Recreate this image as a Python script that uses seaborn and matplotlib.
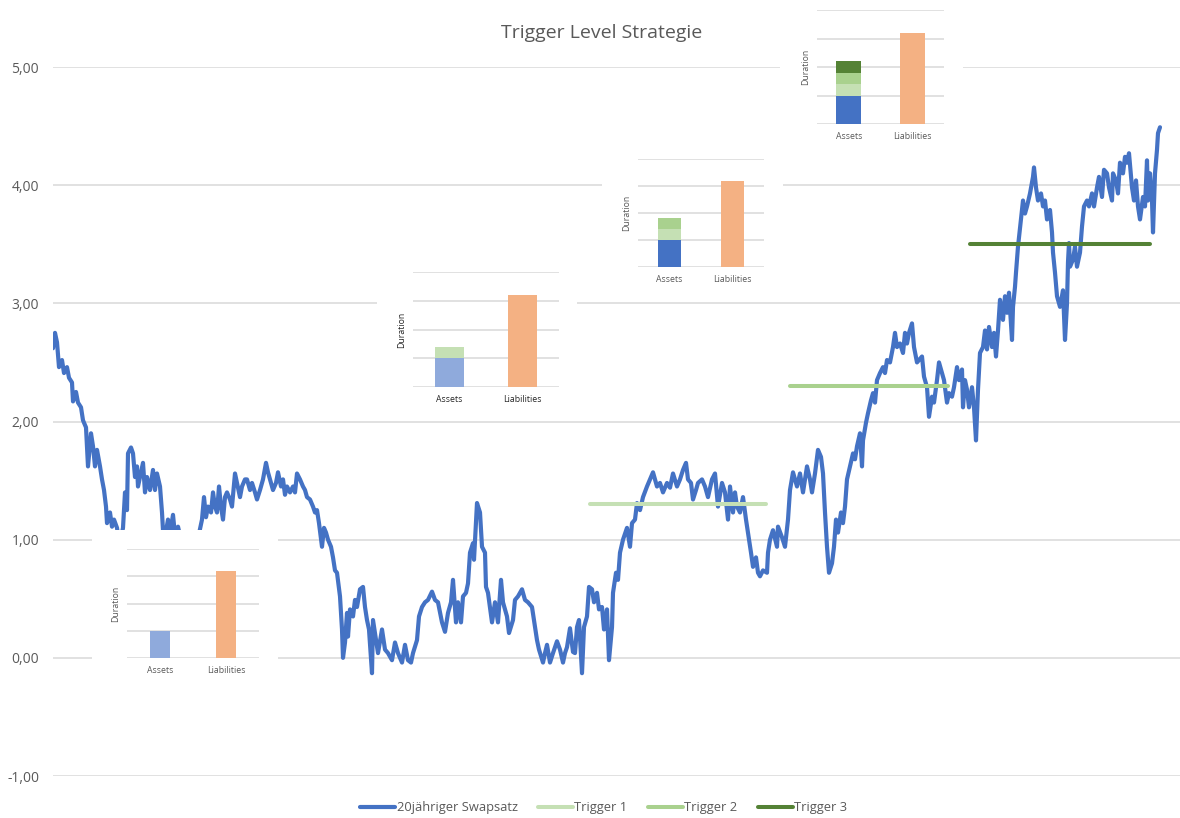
import numpy as np
import pandas as pd
import matplotlib
matplotlib.use("Agg")
import matplotlib.pyplot as plt
from matplotlib.ticker import FuncFormatter
import seaborn as sns

# ---------------- data ----------------
tage = [
    0, 2, 4, 6, 9, 11, 14, 16, 19, 20,
    23, 25, 28, 30, 33, 35, 38, 40, 42, 44,
    47, 49, 51, 53, 54, 57, 59, 61, 64, 66,
    68, 70, 72, 74, 75, 78, 80, 82, 84, 85,
    87, 90, 92, 94, 97, 100, 102, 104, 107, 109,
    110, 112, 115, 117, 120, 122, 125, 128, 133, 138,
    143, 146, 149, 151, 153, 155, 158, 160, 162, 164,
    166, 168, 170, 172, 174, 177, 179, 182, 184, 187,
    189, 192, 194, 197, 199, 202, 204, 207, 210, 213,
    215, 218, 220, 223, 225, 228, 230, 232, 234, 237,
    240, 242, 244, 247, 250, 252, 254, 257, 260, 262,
    264, 266, 269, 271, 273, 275, 278, 280, 282, 284,
    287, 289, 290, 292, 294, 295, 297, 300, 302, 304,
    307, 310, 312, 314, 316, 319, 320, 323, 325, 329,
    332, 335, 339, 342, 345, 349, 352, 355, 358, 360,
    364, 366, 369, 372, 375, 379, 382, 385, 389, 392,
    395, 398, 400, 403, 405, 408, 410, 413, 415, 417,
    420, 421, 424, 427, 429, 432, 433, 435, 439, 442,
    445, 448, 450, 454, 456, 460, 462, 465, 469, 472,
    475, 479, 481, 484, 486, 490, 492, 494, 497, 500,
    502, 504, 507, 510, 512, 514, 517, 520, 522, 524,
    526, 529, 531, 534, 536, 539, 541, 544, 546, 549,
    551, 554, 556, 559, 560, 563, 565, 567, 570, 574,
    577, 579, 582, 584, 587, 590, 594, 597, 600, 604,
    607, 610, 614, 617, 620, 624, 627, 630, 633, 635,
    638, 640, 643, 645, 649, 652, 655, 659, 662, 665,
    669, 672, 675, 677, 680, 682, 684, 687, 690, 693,
    695, 698, 700, 703, 705, 707, 710, 714, 715, 717,
    720, 724, 725, 729, 732, 735, 737, 740, 744, 747,
    750, 754, 757, 759, 762, 765, 768, 770, 771, 772,
    774, 776, 779, 781, 783, 785, 788, 790, 792, 794,
    797, 800, 802, 804, 807, 809, 810, 813, 815, 818,
    820, 822, 824, 827, 830, 832, 834, 837, 840, 842,
    844, 847, 850, 852, 854, 856, 859, 861, 864, 866,
    869, 871, 874, 876, 879, 881, 884, 886, 889, 891,
    894, 896, 899, 901, 904, 906, 909, 910, 912, 914,
    916, 919, 921, 923, 925, 927, 930, 932, 934, 936,
    939, 941, 943, 945, 947, 950, 952, 954, 956, 959,
    960, 962, 963, 965, 968, 970, 972, 974, 977, 980,
    981, 983, 985, 988, 990, 992, 994, 997, 999, 1000,
    1002, 1004, 1007, 1010, 1012, 1014, 1015, 1016, 1017, 1020,
    1022, 1024, 1027, 1029, 1031, 1034, 1036, 1039, 1041, 1044,
    1046, 1049, 1051, 1054, 1056, 1059, 1060, 1063, 1065, 1067,
    1070, 1072, 1074, 1076, 1079, 1081, 1083, 1085, 1087, 1090,
    1092, 1094, 1095, 1097, 1099, 1100, 1102, 1104, 1105, 1107,
]

swapsatz = [
    2.62, 2.75, 2.67, 2.46, 2.52, 2.41, 2.46, 2.37, 2.33, 2.17,
    2.25, 2.16, 2.12, 2.01, 1.95, 1.62, 1.90, 1.79, 1.62, 1.76,
    1.62, 1.51, 1.42, 1.28, 1.14, 1.23, 1.11, 1.17, 1.10, 0.98,
    1.02, 1.10, 1.40, 1.25, 1.73, 1.78, 1.73, 1.53, 1.62, 1.45,
    1.53, 1.65, 1.40, 1.53, 1.42, 1.59, 1.42, 1.56, 1.45, 1.23,
    1.08, 1.02, 1.17, 1.05, 1.21, 1.04, 1.11, 1.00, 0.95, 0.98,
    1.00, 1.05, 1.17, 1.36, 1.19, 1.28, 1.23, 1.40, 1.28, 1.23,
    1.45, 1.28, 1.17, 1.36, 1.40, 1.34, 1.28, 1.56, 1.48, 1.36,
    1.45, 1.51, 1.51, 1.42, 1.48, 1.40, 1.34, 1.42, 1.51, 1.65,
    1.57, 1.48, 1.42, 1.48, 1.57, 1.45, 1.51, 1.38, 1.45, 1.40,
    1.45, 1.40, 1.56, 1.51, 1.45, 1.42, 1.36, 1.34, 1.28, 1.23,
    1.25, 1.14, 0.94, 1.10, 1.06, 1.00, 0.94, 0.85, 0.74, 0.72,
    0.52, 0.24, 0.00, 0.13, 0.38, 0.18, 0.41, 0.35, 0.49, 0.43,
    0.58, 0.60, 0.43, 0.32, 0.24, -0.13, 0.32, 0.15, 0.04, 0.24,
    0.07, 0.04, -0.02, 0.13, 0.04, -0.04, 0.11, -0.02, -0.04, 0.04,
    0.15, 0.35, 0.43, 0.47, 0.49, 0.56, 0.49, 0.47, 0.30, 0.22,
    0.38, 0.47, 0.66, 0.30, 0.47, 0.30, 0.52, 0.55, 0.63, 0.89,
    0.97, 0.83, 1.31, 1.23, 0.94, 0.89, 0.60, 0.55, 0.30, 0.47,
    0.30, 0.66, 0.47, 0.35, 0.21, 0.32, 0.49, 0.52, 0.58, 0.49,
    0.47, 0.43, 0.32, 0.15, 0.07, -0.04, 0.04, 0.11, -0.04, 0.04,
    0.09, 0.14, 0.07, -0.04, 0.04, 0.09, 0.25, 0.05, 0.04, 0.26,
    0.32, -0.13, 0.26, 0.35, 0.60, 0.58, 0.47, 0.55, 0.41, 0.43,
    0.24, 0.41, -0.02, 0.26, 0.55, 0.72, 0.66, 0.89, 1.00, 1.10,
    0.94, 1.14, 1.17, 1.31, 1.25, 1.36, 1.45, 1.51, 1.57, 1.45,
    1.48, 1.40, 1.48, 1.44, 1.56, 1.45, 1.51, 1.59, 1.65, 1.51,
    1.48, 1.34, 1.42, 1.48, 1.51, 1.45, 1.36, 1.51, 1.56, 1.28,
    1.48, 1.40, 1.17, 1.45, 1.23, 1.40, 1.28, 1.23, 1.36, 1.17,
    1.06, 0.89, 0.77, 0.85, 0.72, 0.69, 0.74, 0.72, 0.89, 1.00,
    1.08, 0.94, 1.11, 1.02, 0.94, 1.17, 1.42, 1.57, 1.45, 1.56,
    1.40, 1.62, 1.51, 1.40, 1.56, 1.76, 1.70, 1.56, 1.40, 1.23,
    0.94, 0.72, 0.80, 0.94, 1.17, 1.06, 1.23, 1.14, 1.28, 1.51,
    1.62, 1.73, 1.68, 1.79, 1.90, 1.62, 1.84, 1.99, 2.07, 2.18,
    2.24, 2.16, 2.35, 2.41, 2.46, 2.41, 2.52, 2.50, 2.63, 2.75,
    2.63, 2.66, 2.58, 2.75, 2.66, 2.75, 2.83, 2.63, 2.50, 2.52,
    2.55, 2.38, 2.29, 2.04, 2.21, 2.16, 2.35, 2.50, 2.41, 2.35,
    2.16, 2.24, 2.21, 2.29, 2.46, 2.35, 2.44, 2.12, 2.35, 2.27,
    2.12, 2.29, 2.12, 1.84, 2.27, 2.58, 2.63, 2.77, 2.61, 2.80,
    2.63, 2.75, 2.55, 2.77, 3.03, 2.86, 3.06, 2.92, 3.09, 2.69,
    2.97, 3.14, 3.26, 3.48, 3.71, 3.87, 3.76, 3.82, 3.93, 4.07,
    4.15, 3.98, 3.87, 3.93, 3.82, 3.87, 3.71, 3.79, 3.60, 3.43,
    3.26, 3.06, 2.97, 3.11, 2.69, 3.00, 3.35, 3.51, 3.31, 3.37,
    3.48, 3.31, 3.43, 3.65, 3.82, 3.87, 3.82, 3.93, 3.82, 3.98,
    4.07, 3.90, 4.13, 4.10, 3.98, 3.87, 4.10, 4.04, 3.93, 4.19,
    4.10, 4.24, 4.19, 4.27, 3.98, 3.87, 4.04, 3.82, 3.71, 3.90,
    3.82, 4.21, 3.87, 4.10, 3.87, 3.60, 4.10, 4.30, 4.44, 4.49,
]

trigger_names = ["Trigger 1", "Trigger 2", "Trigger 3"]
trigger_levels = [1.30, 2.30, 3.50]
trigger_start = [537, 737, 917]
trigger_end = [713, 895, 1097]
trigger_colors = ["#C5E0B4", "#A9D18E", "#548235"]

inset_categories = ["Assets", "Liabilities"]
liabilities_duration = 3.2
# asset duration stacks for the four insets (base + trigger add-ons)
inset_asset_stacks = [
    [1.0],
    [1.0, 0.4],
    [1.0, 0.4, 0.4],
    [1.0, 0.4, 0.4, 0.4],
]
inset_asset_colors = [
    ["#8FAADC"],
    ["#8FAADC", "#C5E0B4"],
    ["#4472C4", "#C5E0B4", "#A9D18E"],
    ["#4472C4", "#C5E0B4", "#A9D18E", "#548235"],
]

y_ticks = [-1, 0, 1, 2, 3, 4, 5]
title = "Trigger Level Strategie"
series_name = "20jähriger Swapsatz"

# ---------------- style ----------------
sns.set_theme(style="white")
plt.rcParams["font.family"] = ["Open Sans", "DejaVu Sans"]

W, H = 1180, 818
fig = plt.figure(figsize=(W / 100, H / 100), dpi=100)


def rect(x0, y0, x1, y1):
    """pixel box (top-left origin) -> figure fraction [l, b, w, h]"""
    return [x0 / W, 1 - y1 / H, (x1 - x0) / W, (y1 - y0) / H]


GRID = "#D9D9D9"
TXT = "#595959"

ax = fig.add_axes(rect(53, 67, 1180, 776))
df = pd.DataFrame({"Tag": tage, "Swapsatz": swapsatz})
sns.lineplot(data=df, x="Tag", y="Swapsatz", ax=ax, color="#4472C4",
             linewidth=3.0, estimator=None, label=series_name,
             solid_capstyle="round", solid_joinstyle="round", zorder=3)
for name, lvl, s, e, c in zip(trigger_names, trigger_levels, trigger_start,
                              trigger_end, trigger_colors):
    tdf = pd.DataFrame({"Tag": [s, e], "Level": [lvl, lvl]})
    sns.lineplot(data=tdf, x="Tag", y="Level", ax=ax, color=c, linewidth=2.9,
                 estimator=None, label=name, solid_capstyle="round", zorder=4)

ax.set_xlim(0, 1127)
ax.set_ylim(-1, 5)
ax.set_yticks(y_ticks)
ax.yaxis.set_major_formatter(FuncFormatter(lambda v, p: f"{v:.2f}".replace(".", ",")))
ax.set_xticks([])
ax.set_xlabel("")
ax.set_ylabel("")
ax.grid(axis="y", color=GRID, linewidth=1.1)
ax.set_axisbelow(True)
for sp in ax.spines.values():
    sp.set_visible(False)
ax.tick_params(axis="y", length=0, pad=10, labelsize=10, labelcolor=TXT)

handles, labels = ax.get_legend_handles_labels()
ax.get_legend().remove()
fig.legend(handles, labels, loc="center", bbox_to_anchor=(604 / W, 1 - 808 / H),
           ncol=4, frameon=False, fontsize=9.3, handlelength=2.7,
           handletextpad=0.1, columnspacing=1.6, labelcolor=TXT)

fig.text(602 / W, 1 - 33 / H, title, ha="center", va="center",
         fontsize=14, color=TXT)

# ---------------- insets ----------------
insets = [
    # (white box), (plot area), bar width, text colour
    ((92, 530, 278, 700), (127, 549, 259, 658), 0.31, TXT),
    ((377, 255, 577, 415), (413, 272, 559, 387), 0.40, "#262626"),
    ((602, 140, 783, 292), (638, 159, 764, 267), 0.38, TXT),
    ((780, 0, 963, 150), (817, 10, 944, 124), 0.39, TXT),
]

for (box, area, bw, tc), stack, cols in zip(insets, inset_asset_stacks, inset_asset_colors):
    bax = fig.add_axes(rect(*box))
    bax.set_facecolor("white")
    bax.set_xticks([])
    bax.set_yticks([])
    for sp in bax.spines.values():
        sp.set_visible(False)

    iax = fig.add_axes(rect(*area))
    iax.set_facecolor("none")
    bottom = 0.0
    for val, col in zip(stack, cols):
        iax.bar(0, val, bottom=bottom, width=bw, color=col, edgecolor="none", zorder=3)
        bottom += val
    iax.bar(1, liabilities_duration, width=bw, color="#F4B183", edgecolor="none", zorder=3)
    iax.set_xlim(-0.5, 1.5)
    iax.set_ylim(0, 4)
    iax.set_yticks([0, 1, 2, 3, 4])
    iax.set_yticklabels([])
    iax.set_xticks([0, 1])
    iax.set_xticklabels(inset_categories, fontsize=6.3, color=tc)
    iax.tick_params(axis="both", length=0)
    iax.tick_params(axis="x", pad=6)
    iax.grid(axis="y", color=GRID, linewidth=1.1)
    iax.grid(axis="x", visible=False)
    iax.set_axisbelow(True)
    for sp in iax.spines.values():
        sp.set_visible(False)
    iax.set_ylabel("Duration", fontsize=6.3, color=tc, labelpad=1.5)

fig.savefig("out.png", dpi=100)
